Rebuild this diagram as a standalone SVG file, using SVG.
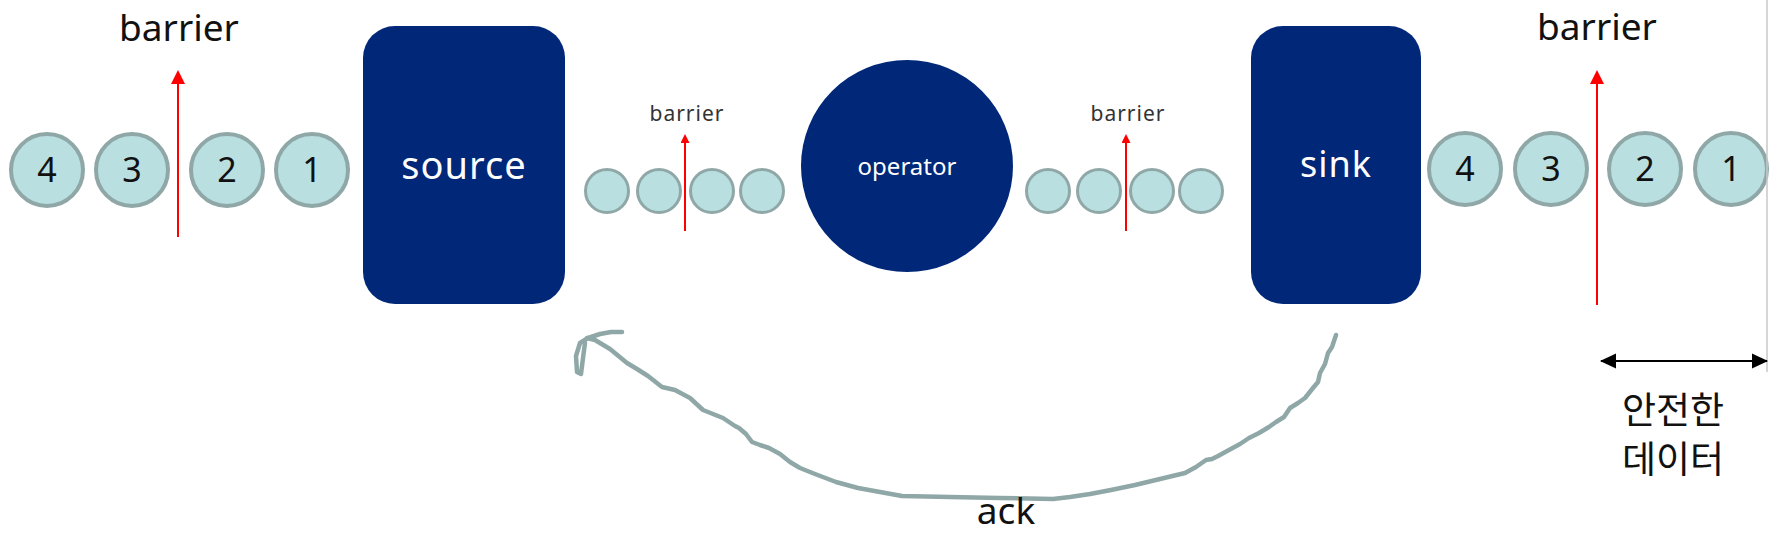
<svg xmlns="http://www.w3.org/2000/svg" width="1769" height="535" viewBox="0 0 1769 535">
<style>
  .tok { fill: #b9dfe1; stroke: #8fa8a7; stroke-width: 4; }
  .stok { fill: #b9dfe1; stroke: #8fa8a7; stroke-width: 3; }
  .node { fill: #012878; }
  .num { font-family: "Noto Sans", "DejaVu Sans", sans-serif; font-size: 34px; fill: #111; text-anchor: middle; }
  .lbl { font-family: "Noto Sans", "DejaVu Sans", sans-serif; fill: #fff; text-anchor: middle; }
  .bar { font-family: "Noto Sans", "DejaVu Sans", sans-serif; font-size: 37px; fill: #111; text-anchor: middle; }
  .sbar { font-family: "Noto Sans", "DejaVu Sans", sans-serif; font-size: 21px; fill: #333; text-anchor: middle; letter-spacing: 1px; }
  .red { stroke: #ff0000; stroke-width: 2; fill: none; }
  .ack { stroke: #8fa8a7; stroke-width: 4.5; fill: none; stroke-linecap: round; stroke-linejoin: round; }
  .kr { font-family: "Noto Sans", "Noto Sans CJK KR", sans-serif; font-size: 37px; fill: #111; text-anchor: middle; }
</style>
<defs>
  <marker id="redHead" markerWidth="14" markerHeight="14" refX="2" refY="7" orient="auto" markerUnits="userSpaceOnUse" viewBox="0 0 14 14">
    <path d="M0,0 L14,7 L0,14 Z" fill="#ff0000"/>
  </marker>
  <marker id="redHeadS" markerWidth="9" markerHeight="9" refX="1" refY="4.5" orient="auto" markerUnits="userSpaceOnUse" viewBox="0 0 9 9">
    <path d="M0,0 L9,4.5 L0,9 Z" fill="#ff0000"/>
  </marker>
  <marker id="blkHead" markerWidth="16" markerHeight="16" refX="15" refY="8" orient="auto-start-reverse" markerUnits="userSpaceOnUse" viewBox="0 0 16 16">
    <path d="M0,0.5 L16,8 L0,15.5 Z" fill="#000"/>
  </marker>
</defs>
<rect width="1769" height="535" fill="#ffffff"/>

<g id="left-stream">
  <circle class="tok" cx="47" cy="170" r="36"/><text class="num" x="47" y="182">4</text>
  <circle class="tok" cx="132" cy="170" r="36"/><text class="num" x="132" y="182">3</text>
  <circle class="tok" cx="227" cy="170" r="36"/><text class="num" x="227" y="182">2</text>
  <circle class="tok" cx="312" cy="170" r="36"/><text class="num" x="312" y="182">1</text>
  <text class="bar" x="179" y="41">barrier</text>
</g>

<g id="source">
  <rect class="node" x="363" y="26" width="202" height="278" rx="32" ry="32"/>
  <text class="lbl" x="464" y="179" font-size="38" letter-spacing="1">source</text>
</g>

<g id="mid-left-stream">
  <circle class="stok" cx="607" cy="191" r="21.5"/>
  <circle class="stok" cx="659" cy="191" r="21.5"/>
  <circle class="stok" cx="712" cy="191" r="21.5"/>
  <circle class="stok" cx="762" cy="191" r="21.5"/>
  <text class="sbar" x="687" y="121">barrier</text>
</g>

<g id="operator">
  <circle class="node" cx="907" cy="166" r="106"/>
  <text class="lbl" x="907" y="175" font-size="24">operator</text>
</g>

<g id="mid-right-stream">
  <circle class="stok" cx="1048" cy="191" r="21.5"/>
  <circle class="stok" cx="1099" cy="191" r="21.5"/>
  <circle class="stok" cx="1152" cy="191" r="21.5"/>
  <circle class="stok" cx="1201" cy="191" r="21.5"/>
  <text class="sbar" x="1128" y="121">barrier</text>
</g>

<g id="sink">
  <rect class="node" x="1251" y="26" width="170" height="278" rx="32" ry="32"/>
  <text class="lbl" x="1336" y="177" font-size="36" letter-spacing="1">sink</text>
</g>

<g id="right-stream">
  <circle class="tok" cx="1465" cy="169" r="36"/><text class="num" x="1465" y="181">4</text>
  <circle class="tok" cx="1551" cy="169" r="36"/><text class="num" x="1551" y="181">3</text>
  <circle class="tok" cx="1645" cy="169" r="36"/><text class="num" x="1645" y="181">2</text>
  <circle class="tok" cx="1731" cy="169" r="36"/><text class="num" x="1731" y="181">1</text>
  <text class="bar" x="1597" y="40">barrier</text>
</g>

<g id="safe-data">
  <text class="kr" x="1673" y="424">안전한</text>
  <text class="kr" x="1673" y="473">데이터</text>
</g>

<g id="connectors">
  <line class="red" x1="178" y1="237" x2="178" y2="82" marker-end="url(#redHead)"/>
  <line class="red" x1="685" y1="231" x2="685" y2="142" stroke-width="1.5" marker-end="url(#redHeadS)"/>
  <line class="red" x1="1126" y1="231" x2="1126" y2="142" stroke-width="1.5" marker-end="url(#redHeadS)"/>
  <line class="red" x1="1597" y1="305" x2="1597" y2="82" marker-end="url(#redHead)"/>
  <line x1="1767" y1="0" x2="1767" y2="372" stroke="#c8c8c8" stroke-width="1.5"/>
  <line x1="1601" y1="361" x2="1767" y2="361" stroke="#000" stroke-width="2" marker-start="url(#blkHead)" marker-end="url(#blkHead)"/>
  <path class="ack" d="M1336,335 L1332,347 L1328,353 L1325,364 L1320,373 L1318,382 L1313,388 L1305,398 L1298,403 L1290,408 L1284,417 L1276,422 L1269,427 L1259,433 L1249,438 L1240,444 L1229,450 L1218,456 L1212,459 L1206,460 L1196,467 L1185,473 L1160,479 L1135,485 L1111,490 L1090,494 L1070,497 L1053,499 L1000,498 L950,497 L902,496 L880,492 L858,488 L836,482 L815,474 L800,468 L790,462 L780,454 L769,448 L760,445 L752,442 L746,434 L739,428 L735,426 L723,418 L703,410 L690,398 L675,390 L662,387 L648,376 L637,369 L627,363 L610,349 L595,340 L587,338"/>
  <path class="ack" d="M622,332 L611,332 L600,334 L588,338 L580,343 L576,356 L577,372 L581,374 L583,358 L585,343"/>
  <text class="bar" x="1006" y="524" font-size="35">ack</text>
</g>
</svg>
